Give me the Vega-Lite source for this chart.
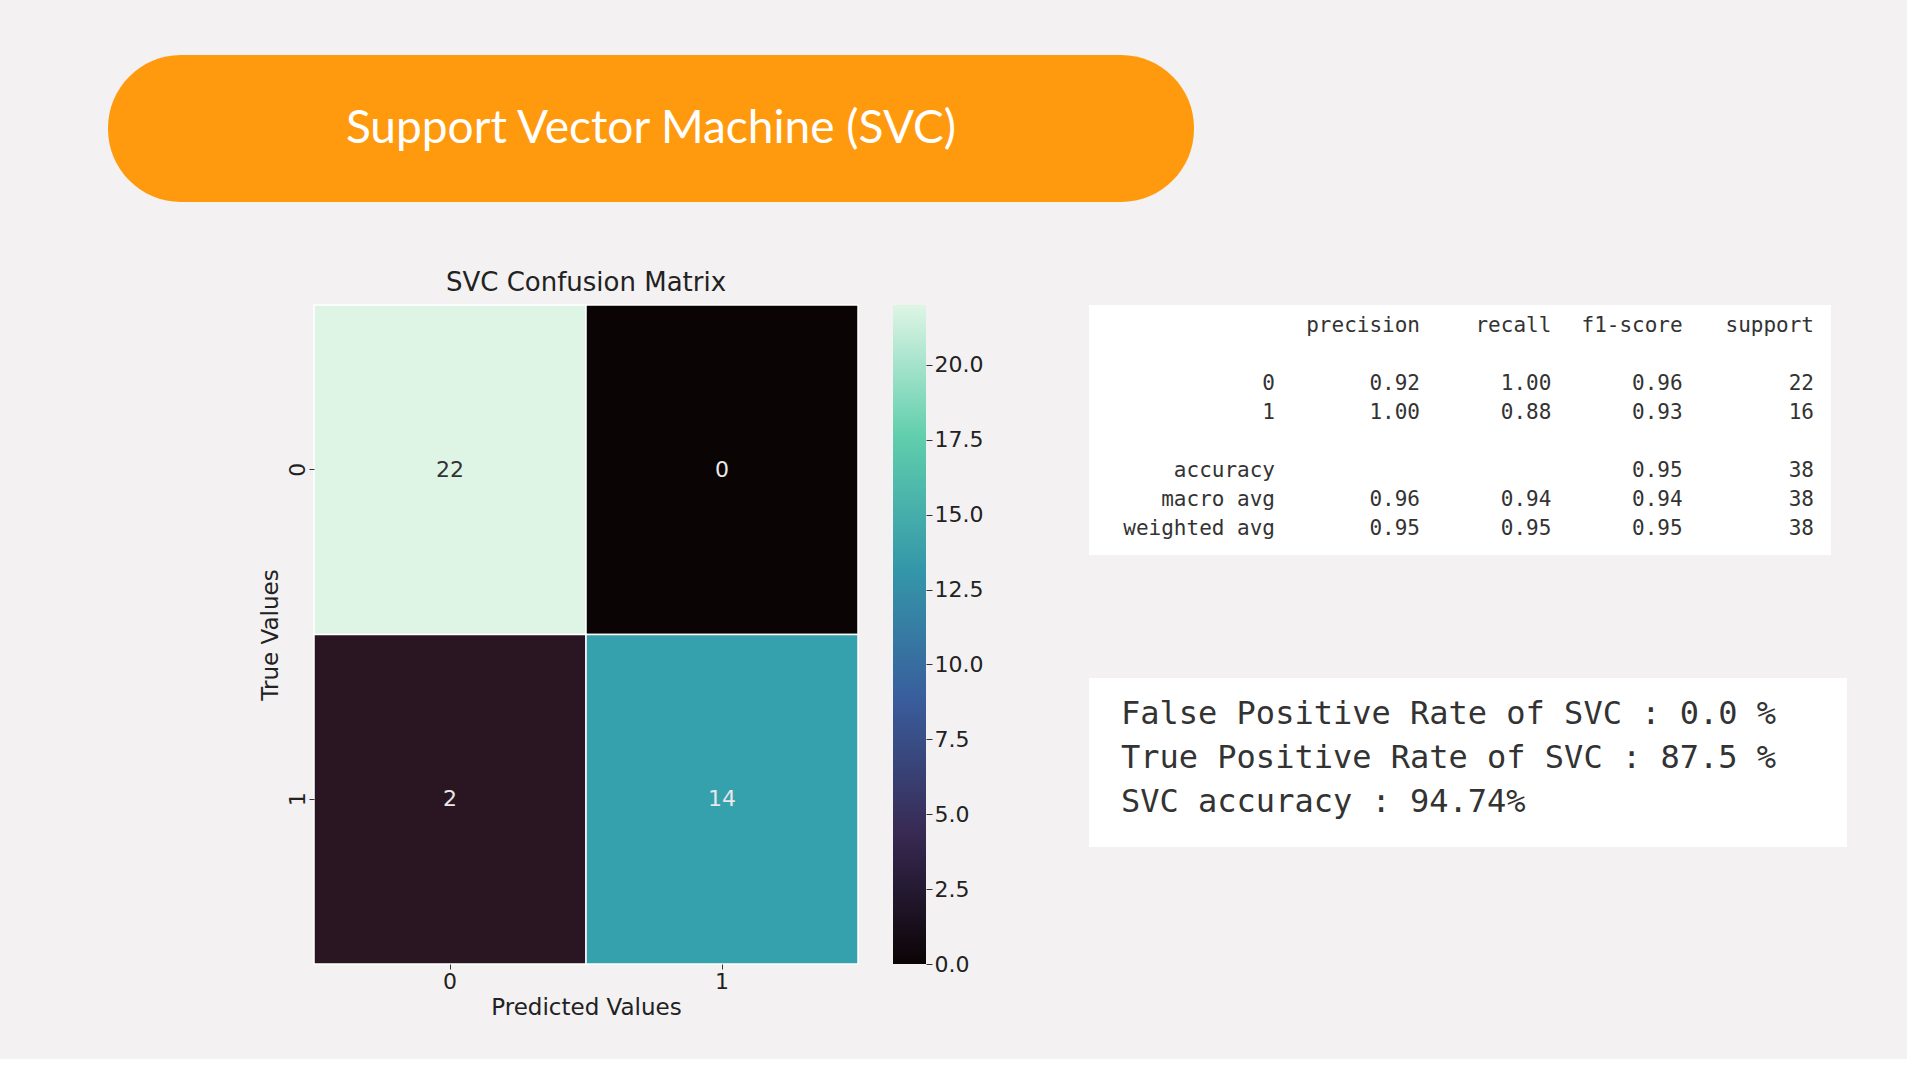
{
  "$schema": "https://vega.github.io/schema/vega-lite/v6.json",
  "background": "#f3f1f1",
  "padding": {"left": 108, "top": 55, "right": 60, "bottom": 40},
  "config": {
    "font": "DejaVu Sans",
    "view": {"stroke": null}
  },
  "spacing": 68,
  "vconcat": [
    {
      "width": 1086,
      "height": 147,
      "view": {"fill": "#FF9A0E", "cornerRadius": 73, "stroke": null},
      "data": {"values": [{"t": "Support Vector Machine (SVC)"}]},
      "mark": {"type": "text", "font": "Lato", "fontSize": 46, "color": "white"},
      "encoding": {
        "x": {"field": "t", "type": "nominal", "axis": null},
        "y": {"field": "t", "type": "nominal", "axis": null},
        "text": {"field": "t"}
      }
    },
    {
      "spacing": 106,
      "hconcat": [
        {
          "width": 45,
          "height": 10,
          "data": {"values": []},
          "mark": "text",
          "encoding": {}
        },
        {
          "spacing": 34,
          "hconcat": [
            {
              "width": 544,
              "height": 659,
              "title": {"text": "SVC Confusion Matrix", "fontSize": 26, "fontWeight": "normal", "color": "#222", "offset": 8},
              "data": {"values": [
                {"pred": "0", "true": "0", "n": 22},
                {"pred": "1", "true": "0", "n": 0},
                {"pred": "0", "true": "1", "n": 2},
                {"pred": "1", "true": "1", "n": 14}
              ]},
              "layer": [
                {
                  "mark": {"type": "rect", "stroke": "white", "strokeWidth": 1.5},
                  "encoding": {
                    "x": {"field": "pred", "type": "ordinal", "title": "Predicted Values",
                      "axis": {"labelAngle": 0, "labelFontSize": 22, "titleFontSize": 23, "titleFontWeight": "normal", "domain": false, "tickColor": "#333", "labelColor": "#222", "titleColor": "#222"}},
                    "y": {"field": "true", "type": "ordinal", "title": "True Values",
                      "axis": {"labelAngle": -90, "labelFontSize": 22, "titleFontSize": 23, "titleFontWeight": "normal", "domain": false, "tickColor": "#333", "labelColor": "#222", "titleColor": "#222", "labelBaseline": "middle", "labelAlign": "center", "labelPadding": 12}},
                    "color": {"field": "n", "type": "quantitative",
                      "scale": {"domain": [0, 22], "range": ["#0b0405", "#382a54", "#395d9c", "#3497a9", "#60ceac", "#def5e5"]},
                      "legend": null}
                  }
                },
                {
                  "mark": {"type": "text", "fontSize": 22},
                  "encoding": {
                    "x": {"field": "pred", "type": "ordinal"},
                    "y": {"field": "true", "type": "ordinal"},
                    "text": {"field": "n"},
                    "color": {"condition": {"test": "datum.n > 18", "value": "#333"}, "value": "#e8e8e8"}
                  }
                }
              ]
            },
            {
              "width": 33,
              "height": 659,
              "data": {"values": [{"lo": 0, "hi": 22}]},
              "mark": {"type": "rect", "fill": {
                "gradient": "linear", "x1": 0, "y1": 1, "x2": 0, "y2": 0,
                "stops": [
                  {"offset": 0, "color": "#0b0405"},
                  {"offset": 0.2, "color": "#382a54"},
                  {"offset": 0.4, "color": "#395d9c"},
                  {"offset": 0.6, "color": "#3497a9"},
                  {"offset": 0.8, "color": "#60ceac"},
                  {"offset": 1, "color": "#def5e5"}
                ]}},
              "encoding": {
                "y": {"field": "lo", "type": "quantitative", "scale": {"domain": [0, 22], "nice": false},
                  "axis": {"orient": "right", "title": null, "values": [0, 2.5, 5, 7.5, 10, 12.5, 15, 17.5, 20], "format": ".1f", "labelFontSize": 22, "labelColor": "#222", "domain": false, "grid": false, "tickColor": "#333", "tickSize": 6}},
                "y2": {"field": "hi"}
              }
            }
          ]
        },
        {
          "spacing": 123,
          "vconcat": [
            {
              "width": 742,
              "height": 250,
              "view": {"fill": "white", "stroke": null},
              "data": {"values": [
                {"r": "h", "c": "precision", "t": "precision"},
                {"r": "h", "c": "recall", "t": "recall"},
                {"r": "h", "c": "f1", "t": "f1-score"},
                {"r": "h", "c": "support", "t": "support"},
                {"r": "0", "c": "label", "t": "0"},
                {"r": "0", "c": "precision", "t": "0.92"},
                {"r": "0", "c": "recall", "t": "1.00"},
                {"r": "0", "c": "f1", "t": "0.96"},
                {"r": "0", "c": "support", "t": "22"},
                {"r": "1", "c": "label", "t": "1"},
                {"r": "1", "c": "precision", "t": "1.00"},
                {"r": "1", "c": "recall", "t": "0.88"},
                {"r": "1", "c": "f1", "t": "0.93"},
                {"r": "1", "c": "support", "t": "16"},
                {"r": "acc", "c": "label", "t": "accuracy"},
                {"r": "acc", "c": "f1", "t": "0.95"},
                {"r": "acc", "c": "support", "t": "38"},
                {"r": "macro", "c": "label", "t": "macro avg"},
                {"r": "macro", "c": "precision", "t": "0.96"},
                {"r": "macro", "c": "recall", "t": "0.94"},
                {"r": "macro", "c": "f1", "t": "0.94"},
                {"r": "macro", "c": "support", "t": "38"},
                {"r": "weighted", "c": "label", "t": "weighted avg"},
                {"r": "weighted", "c": "precision", "t": "0.95"},
                {"r": "weighted", "c": "recall", "t": "0.95"},
                {"r": "weighted", "c": "f1", "t": "0.95"},
                {"r": "weighted", "c": "support", "t": "38"}
              ]},
              "layer": [
                {
                  "transform": [{"filter": "datum.c != 'label'"}],
                  "mark": {"type": "text", "font": "DejaVu Sans Mono", "fontSize": 21, "align": "right", "color": "#333"},
                  "encoding": {
                    "x": {"field": "c", "type": "ordinal", "axis": null,
                      "scale": {"type": "point", "domain": ["precision", "recall", "f1", "support"], "range": [331, 725], "padding": 0}},
                    "y": {"field": "r", "type": "ordinal", "axis": null,
                      "scale": {"type": "point", "domain": ["h", "b1", "0", "1", "b2", "acc", "macro", "weighted"], "range": [21, 224], "padding": 0}},
                    "text": {"field": "t"}
                  }
                },
                {
                  "transform": [{"filter": "datum.c == 'label'"}],
                  "mark": {"type": "text", "font": "DejaVu Sans Mono", "fontSize": 21, "align": "right", "dx": 186, "color": "#333"},
                  "encoding": {
                    "x": {"value": 0},
                    "y": {"field": "r", "type": "ordinal", "axis": null},
                    "text": {"field": "t"}
                  }
                }
              ]
            },
            {
              "width": 758,
              "height": 169,
              "view": {"fill": "white", "stroke": null},
              "data": {"values": [
                {"i": 1, "t": "False Positive Rate of SVC : 0.0 %"},
                {"i": 2, "t": "True Positive Rate of SVC : 87.5 %"},
                {"i": 3, "t": "SVC accuracy : 94.74%"}
              ]},
              "mark": {"type": "text", "font": "DejaVu Sans Mono", "fontSize": 32, "align": "left", "dx": 32, "color": "#333"},
              "encoding": {
                "x": {"value": 0},
                "y": {"field": "i", "type": "ordinal", "axis": null,
                  "scale": {"type": "point", "domain": [1, 2, 3], "range": [36, 124], "padding": 0}},
                "text": {"field": "t"}
              }
            }
          ]
        }
      ]
    }
  ]
}
